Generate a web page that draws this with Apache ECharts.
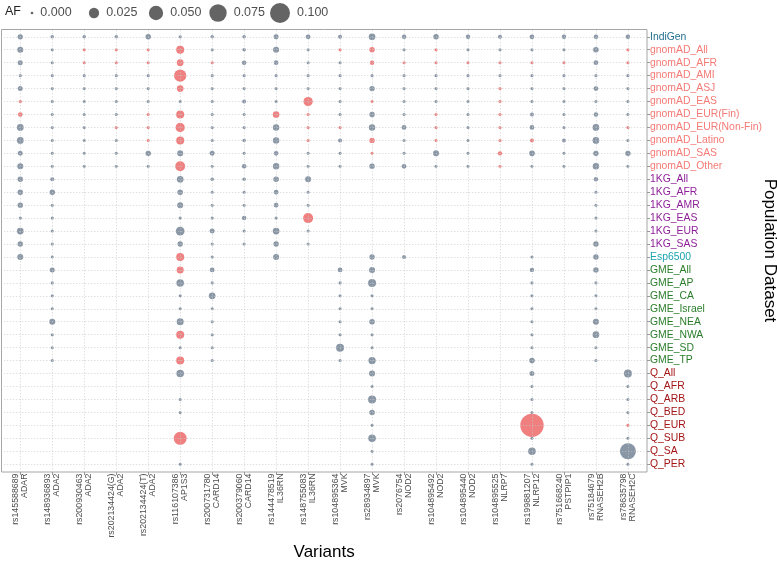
<!DOCTYPE html>
<html>
<head>
<meta charset="utf-8">
<script src="https://cdn.jsdelivr.net/npm/echarts@6/dist/echarts.min.js"></script>
<style>html,body{margin:0;padding:0;background:#fff;}#c{width:777px;height:567px;}</style>
</head>
<body>
<div id="c"></div>
<script>
const variants = ['rs145588689','rs148936893','rs200930463','rs202134424(G)','rs202134424(T)','rs116107386','rs200731780','rs200379060','rs144478519','rs148755083','rs104895364','rs28934897','rs2076754','rs104895492','rs104895440','rs104895525','rs199881207','rs751668240','rs75184679','rs78635798'];
const genes = ['ADAR','ADA2','ADA2','ADA2','ADA2','AP1S3','CARD14','CARD14','IL36RN','IL36RN','MVK','MVK','NOD2','NOD2','NOD2','NLRP7','NLRP12','PSTPIP1','RNASEH2B','RNASEH2C'];
const populations = ['IndiGen','gnomAD_All','gnomAD_AFR','gnomAD_AMI','gnomAD_ASJ','gnomAD_EAS','gnomAD_EUR(Fin)','gnomAD_EUR(Non-Fin)','gnomAD_Latino','gnomAD_SAS','gnomAD_Other','1KG_All','1KG_AFR','1KG_AMR','1KG_EAS','1KG_EUR','1KG_SAS','Esp6500','GME_All','GME_AP','GME_CA','GME_Israel','GME_NEA','GME_NWA','GME_SD','GME_TP','Q_All','Q_AFR','Q_ARB','Q_BED','Q_EUR','Q_SUB','Q_SA','Q_PER'];
const legendBreaks = [0.000, 0.025, 0.050, 0.075, 0.100];

// allele frequency per variant, one entry per population (null = not reported)
// order: IndiGen | gnomAD x10 | 1KG x6 | Esp6500 | GME x8 | Q x8
const afByVariant = [
 [0.0053, 0.0073,0.0045,0.0005,0.0045,0.0008,0.0038,0.0095,0.0095,0.0045,0.0073, 0.0055,0.0055,0.0055,0.0008,0.0095,0.0055, 0.0073, null,null,null,null,null,null,null,null, null,null,null,null,null,null,null,null],
 [0.0013, 0.0005,0.0005,0.0005,0.0005,0.0005,0.0005,0.0005,0.0005,0.0005,0.0005, 0.0022,0.0055,0.0005,0.0005,0.0005,0.0005, 0.0003, 0.0045,0.0005,0.0005,0.0005,0.0073,0.0005,0.0005,0.0005, null,null,null,null,null,null,null,null],
 [0.0013, 0.0005,0.0005,0.0005,0.0005,0.0005,0.0005,0.0005,0.0005,0.0005,0.0005, null,null,null,null,null,null, null, null,null,null,null,null,null,null,null, null,null,null,null,null,null,null,null],
 [0.0013, 0.0005,0.0005,0.0005,0.0005,0.0005,0.0005,0.0005,0.0005,0.0005,0.0005, null,null,null,null,null,null, null, null,null,null,null,null,null,null,null, null,null,null,null,null,null,null,null],
 [0.0055, 0.0005,0.0005,0.0005,0.0005,0.0005,0.0005,0.0005,0.0005,0.0055,0.0005, null,null,null,null,null,null, null, null,null,null,null,null,null,null,null, null,null,null,null,null,null,null,null],
 [0.0008, 0.0144,0.0095,0.037,0.0095,0.0005,0.0144,0.02,0.0144,0.0073,0.0236, 0.0095,0.006,0.0073,0.0005,0.0175,0.0055, 0.0144, 0.0106,0.0125,0.0005,0.0005,0.0106,0.0144,0.0005,0.0144, 0.0125,null,0.0005,0.0005,null,0.041,null,0.0005],
 [0.0013, 0.0005,0.0005,0.0005,0.0005,0.0005,0.0005,0.0005,0.0005,0.0045,0.0005, 0.0013,0.0005,0.0005,0.0005,0.0045,0.0005, 0.0005, 0.0038,0.0005,0.0095,0.0005,0.0005,0.0005,0.0005,0.0005, null,null,null,null,null,null,null,null],
 [0.0013, 0.0013,0.0033,0.0005,0.0005,0.0022,0.0005,0.0005,0.0013,0.0005,0.0033, 0.0013,0.0005,0.0005,0.0033,0.0005,0.0005, null, null,null,null,null,null,null,null,null, null,null,null,null,null,null,null,null],
 [0.0045, 0.0073,0.0038,0.0005,0.0005,0.0005,0.0095,0.0085,0.0085,0.0038,0.0085, 0.006,0.0038,0.0038,0.0005,0.0095,0.0055, 0.0073, null,null,null,null,null,null,null,null, null,null,null,null,null,null,null,null],
 [0.0038, 0.0005,0.0005,0.0005,0.0005,0.02,0.0005,0.0005,0.0005,0.0005,0.0005, 0.0073,0.0005,0.0005,0.0236,0.0005,0.0005, null, null,null,null,null,null,null,null,null, null,null,null,null,null,null,null,null],
 [0.0022, 0.0005,0.0005,0.0005,0.0005,0.0005,0.0005,0.0005,0.0022,0.0005,0.0005, null,null,null,null,null,null, null, 0.0038,0.0005,0.0005,0.0005,0.0005,0.0005,0.0144,0.0005, null,null,null,null,null,null,null,null],
 [0.0095, 0.0055,0.0033,0.0005,0.0055,0.0005,0.0055,0.0085,0.0055,0.0005,0.0055, null,null,null,null,null,null, 0.0053, 0.0073,0.0144,0.0005,0.0005,0.006,0.0005,0.0005,0.0117, 0.0073,0.0005,0.0144,0.006,0.0005,0.013,0.0005,0.0005],
 [0.003, 0.0005,0.0005,0.0005,0.0005,0.0005,0.0005,0.0038,0.0005,0.0005,0.0038, null,null,null,null,null,null, 0.0022, null,null,null,null,null,null,null,null, null,null,null,null,null,null,null,null],
 [0.0055, 0.0005,0.0005,0.0005,0.0005,0.0005,0.0005,0.0005,0.0005,0.0073,0.0005, null,null,null,null,null,null, null, null,null,null,null,null,null,null,null, null,null,null,null,null,null,null,null],
 [0.0033, 0.0005,0.0005,0.0005,0.0005,0.0005,0.0005,0.0005,0.0005,0.0005,0.0005, null,null,null,null,null,null, null, null,null,null,null,null,null,null,null, null,null,null,null,null,null,null,null],
 [0.0022, 0.0005,0.0005,0.0005,0.0005,0.0005,0.0005,0.0005,0.0005,0.003,0.0005, null,null,null,null,null,null, null, null,null,null,null,null,null,null,null, null,null,null,null,null,null,null,null],
 [0.0038, 0.0005,0.0005,0.0005,0.0005,0.0005,0.002,0.0038,0.0022,0.0063,0.0005, null,null,null,null,null,null, 0.0005, 0.003,0.0005,0.0005,0.0005,0.0005,0.0005,0.0005,0.006, 0.0045,0.0005,0.0005,0.0005,0.137,0.0005,0.013,0.0005],
 [0.0033, 0.0005,0.0005,0.0005,0.0005,0.0005,0.0005,0.0005,0.0022,0.0005,0.0005, null,null,null,null,null,null, null, null,null,null,null,null,null,null,null, null,null,null,null,null,null,null,null],
 [0.003, 0.006,0.0038,0.0005,0.0038,0.0005,0.003,0.0095,0.0095,0.0055,0.0085, 0.003,0.0005,0.0005,0.0005,0.0005,0.0055, 0.0055, 0.0055,0.0005,0.0005,0.0005,0.0073,0.0095,0.0005,0.0005, null,null,null,null,null,null,null,null],
 [0.003, 0.0005,0.0005,0.0005,0.0005,0.0005,0.0005,0.0005,0.0005,0.0055,0.0005, null,null,null,null,null,null, null, null,null,null,null,null,null,null,null, 0.0144,0.0005,0.0005,0.0005,0.0005,0.0005,0.0633,0.0005]
];

// populations (by index) drawn in red for each variant
const highlightByVariant = [
 [5,6], [], [1,2], [1,2,7], [1,2,6,7,8],
 [1,2,3,4,6,7,8,10,17,18,23,25,31],
 [2], [], [6], [5,6,7,8,14],
 [1,7], [1,2,5,8,9], [2], [1,2,6,7,8], [2],
 [2,4,5,6,7,8,9,10], [2,8,30], [2], [], [1,2,7,30]
];

const FONT = "'Liberation Sans', Arial, Helvetica, sans-serif";
const GRAY = '#8896a5', RED = '#f08080';
function dotSize(af) { return Math.sqrt(7.3 + 3927 * af); }
function popColor(name) {
  if (name === 'IndiGen') return '#23708f';
  if (name.indexOf('gnomAD') === 0) return '#f47a76';
  if (name.indexOf('1KG') === 0) return '#8e1f99';
  if (name === 'Esp6500') return '#1ba3b2';
  if (name.indexOf('GME') === 0) return '#2a7d2a';
  return '#a31515';
}

const points = [];
afByVariant.forEach((col, i) => {
  col.forEach((af, j) => {
    if (af === null) return;
    const red = highlightByVariant[i].indexOf(j) >= 0;
    points.push({ value: [i, j, af], itemStyle: { color: red ? RED : GRAY } });
  });
});
points.sort((a, b) => a.value[2] - b.value[2]);

const xLabels = variants.map((v, i) => v + '\n' + genes[i]);

// dotted guide lines through every category centre
const guideLines = variants.map((v, i) => ({ xAxis: i }))
  .concat(populations.map((p, j) => ({ yAxis: j })));

const chart = echarts.init(document.getElementById('c'), null, { renderer: 'canvas' });
chart.setOption({
  animation: false,
  backgroundColor: '#ffffff',
  textStyle: { fontFamily: FONT },
  title: { text: 'AF', left: 5, top: 5, padding: 0, textStyle: { fontSize: 12.5, fontWeight: 'normal', color: '#222', fontFamily: FONT } },
  graphic: [{
    type: 'rect', z: 0, silent: true,
    shape: { x: 1.5, y: 29.5, width: 645.5, height: 442.5 },
    style: { fill: 'none', stroke: '#a6a6a6', lineWidth: 1 }
  }],
  grid: [
    { left: 4.3, top: 30.3, width: 639.6, height: 440.4, containLabel: false, outerBoundsMode: 'none' },
    { left: 1, top: 3, width: 310, height: 20, containLabel: false, outerBoundsMode: 'none' }
  ],
  xAxis: [{
    type: 'category', gridIndex: 0, data: xLabels, boundaryGap: true, offset: 1.3,
    name: 'Variants', nameLocation: 'middle', nameGap: 72, nameMoveOverlap: false,
    nameTextStyle: { fontSize: 17, color: '#000', fontFamily: FONT },
    axisLine: { show: false },
    axisTick: { show: true, alignWithLabel: true, length: 3, lineStyle: { color: '#999' } },
    axisLabel: { rotate: 90, fontSize: 8.8, lineHeight: 8.6, color: '#4d4d4d', margin: 1.5, interval: 0, fontFamily: FONT, padding: [3, 0, 0, 0] },
    splitLine: { show: false }
  }, {
    type: 'category', gridIndex: 1, data: legendBreaks.map(b => b.toFixed(3)), show: false
  }],
  yAxis: [{
    type: 'category', gridIndex: 0, data: populations, inverse: true, position: 'right', offset: 3.1,
    name: 'Population Dataset', nameLocation: 'middle', nameGap: 114, nameRotate: -90, nameMoveOverlap: false,
    nameTextStyle: { fontSize: 17, color: '#000', fontFamily: FONT },
    axisLine: { show: false },
    axisTick: { show: true, alignWithLabel: true, length: 3, lineStyle: { color: '#999' } },
    axisLabel: { fontSize: 10.4, margin: 3, interval: 0, fontFamily: FONT, color: (v) => popColor(v) },
    splitLine: { show: false }
  }, {
    type: 'category', gridIndex: 1, data: ['AF'], show: false
  }],
  series: [{
    type: 'scatter', xAxisIndex: 0, yAxisIndex: 0, data: [], z: 1, silent: true,
    markLine: {
      silent: true, symbol: ['none', 'none'], label: { show: false }, animation: false,
      lineStyle: { type: [1, 2], color: '#c8c8c8', width: 0.8 },
      emphasis: { disabled: true },
      data: guideLines
    }
  }, {
    type: 'scatter', xAxisIndex: 0, yAxisIndex: 0, data: points,
    symbolSize: (v) => dotSize(v[2]), itemStyle: { opacity: 1 }, z: 3
  }, {
    type: 'scatter', xAxisIndex: 1, yAxisIndex: 1,
    data: legendBreaks.map((b, i) => [i, 0, b]),
    symbolSize: (v) => dotSize(v[2]),
    itemStyle: { color: '#3d3d3d' },
    label: { show: true, position: 'right', distance: 7, fontSize: 12.5, color: '#222', fontFamily: FONT,
      formatter: (p) => p.value[2].toFixed(3) }
  }]
});
</script>
</body>
</html>
